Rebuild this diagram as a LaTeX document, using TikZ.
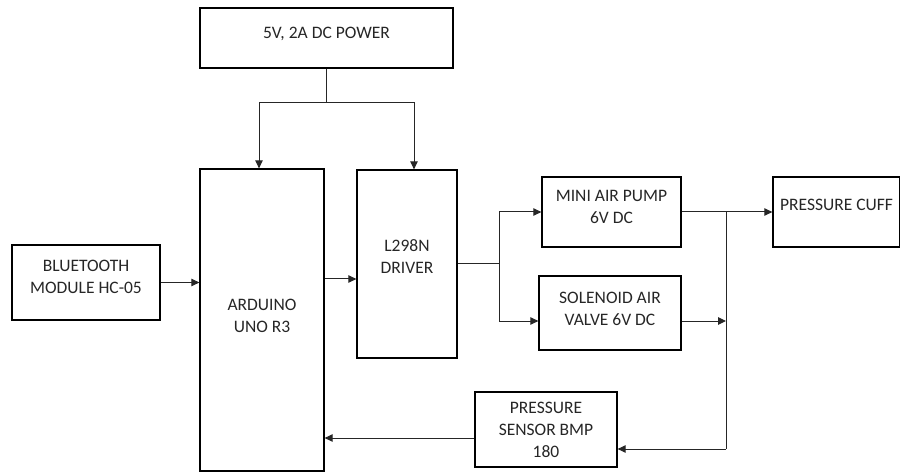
\documentclass[tikz,border=0pt]{standalone}
\usepackage{fontspec}
\setmainfont{Carlito}
\usetikzlibrary{arrows.meta}

\begin{document}
\begin{tikzpicture}[x=1pt,y=-1pt,
    block/.style={draw,line width=1.3pt,align=center,inner sep=0pt,text=black!85,
      font=\fontsize{17.5}{22}\selectfont,text depth=10pt},
    link/.style={line width=1pt,draw=black!85,-{Triangle[length=8pt,width=7.5pt]}},
    line/.style={line width=1pt,draw=black!85}]

  \useasboundingbox (0,0) rectangle (900,473);

  % blocks
  \node[block,minimum width=253,minimum height=60] (power) at (326.5,38) {5V, 2A DC POWER};
  \node[block,minimum width=124,minimum height=302,text depth=8pt] (uno) at (262,320) {ARDUINO\\UNO R3};
  \node[block,minimum width=100,minimum height=188,text depth=14pt] (driver) at (407,264) {L298N\\DRIVER};
  \node[block,minimum width=148,minimum height=75,text depth=11pt] (bt) at (86,282.5) {BLUETOOTH\\MODULE HC-05};
  \node[block,minimum width=139,minimum height=70] (pump) at (611.5,212) {MINI AIR PUMP\\6V DC};
  \node[block,minimum width=142,minimum height=74,text depth=9pt] (valve) at (610,313) {SOLENOID AIR\\VALVE 6V DC};
  \node[block,minimum width=127,minimum height=70,text depth=14pt] (cuff) at (836.5,212) {PRESSURE CUFF};
  \node[block,minimum width=142,minimum height=75,text depth=0pt] (sensor) at (546,429.5) {PRESSURE\\SENSOR BMP\\180};

  % junctions
  \coordinate (pj) at (326.5,103);
  \coordinate (dj) at (499,264);
  \coordinate (vt) at (726,212);
  \coordinate (vb) at (726,449);

  % power supply
  \draw[line] (power.south) -- (pj);
  \draw[link] (pj) -| ([xshift=-3pt]uno.north);
  \draw[link] (pj) -| ([xshift=7pt]driver.north);

  % control
  \draw[link] (bt.east) -- (bt.east -| uno.west);
  \draw[link] ([yshift=41pt]uno.east) -- ([yshift=41pt]uno.east -| driver.west);
  \draw[line] (driver.east) -- (dj);
  \draw[link] (dj) |- (pump.west);
  \draw[link] (dj) |- ([yshift=-8pt]valve.west);

  % air path
  \draw[link] (pump.east) -- (cuff.west);
  \draw[line] (vt) -- (vb);
  \draw[link] ([yshift=-8pt]valve.east) -- ([yshift=-8pt]valve.east -| vt);
  \draw[link] (vb) -- (vb -| sensor.east);
  \draw[link] ([yshift=-8.5pt]sensor.west) -- ([yshift=-8.5pt]sensor.west -| uno.east);

\end{tikzpicture}
\end{document}
